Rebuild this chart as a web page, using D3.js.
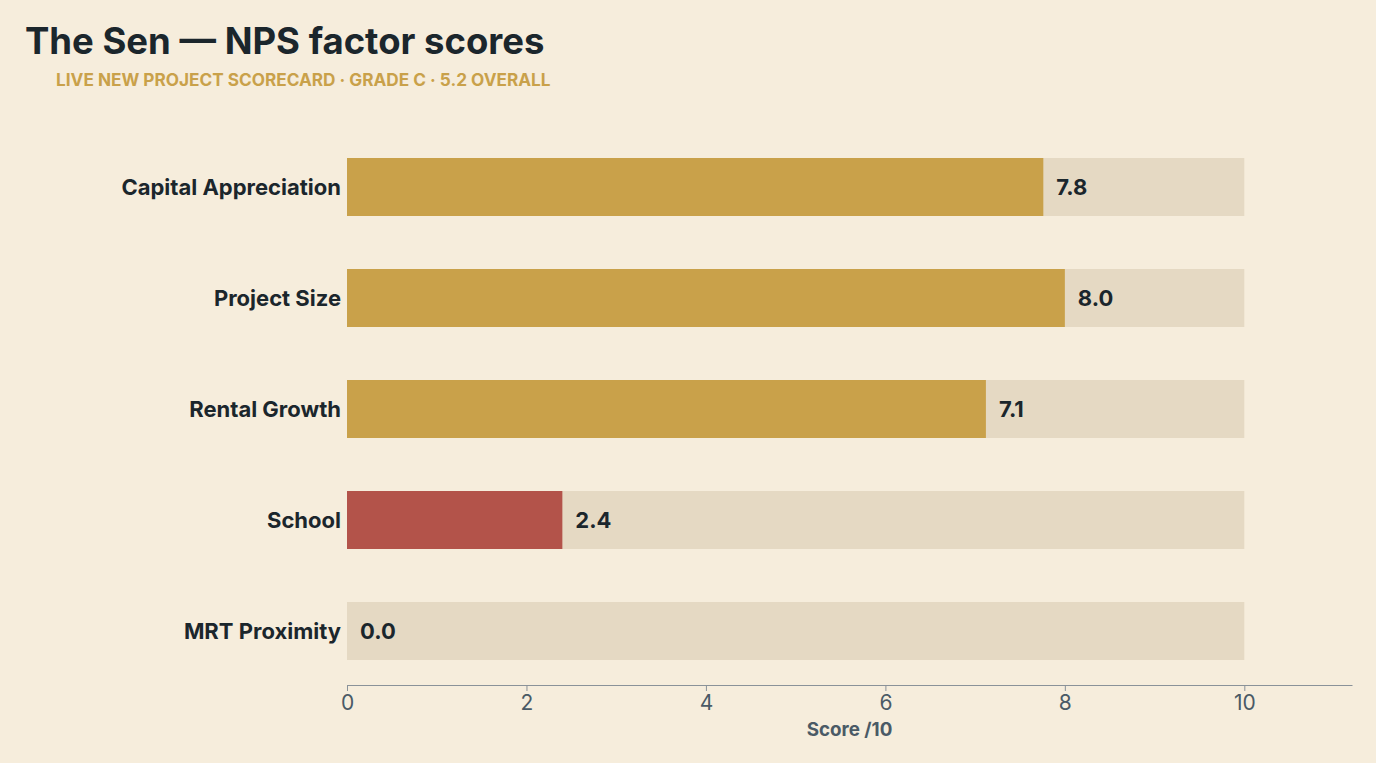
<!DOCTYPE html>
<html><head><meta charset="utf-8">
<script src="https://cdn.jsdelivr.net/npm/d3@7"></script>
<style>
html,body{margin:0;padding:0;background:#F6EDDC;}
svg{display:block;font-family:Inter, "Noto Sans", sans-serif;}
</style></head>
<body>
<svg id="c" width="1376" height="763"></svg>
<script>
const categories = ["Capital Appreciation","Project Size","Rental Growth","School","MRT Proximity"];
const scores = [7.76, 8.0, 7.12, 2.4, 0.0];
const barColors = ["#C9A14A","#C9A14A","#C9A14A","#B3534A","#C9A14A"];
const tickValues = [0,2,4,6,8,10];
const maxScore = 10;

const svg = d3.select("#c");
svg.append("rect").attr("width",1376).attr("height",763).attr("fill","#F6EDDC");

const x = d3.scaleLinear().domain([0, 11.2]).range([347, 1352]);
const y = d3.scaleBand().domain(categories).range([131.5, 686.5]).paddingInner(0.4775).paddingOuter(0.2387);

svg.append("text").attr("x",25).attr("y",54).attr("font-size",36.5).attr("font-weight",700)
  .attr("fill","#1B262C").text("The Sen — NPS factor scores");
svg.append("text").attr("x",56).attr("y",86).attr("font-size",17.2).attr("font-weight",700)
  .attr("fill","#C9A14A").text("LIVE NEW PROJECT SCORECARD · GRADE C · 5.2 OVERALL");

const g = svg.append("g");
g.selectAll("rect.track").data(categories).join("rect").attr("class","track")
  .attr("x", x(0)).attr("y", d=>y(d)).attr("width", x(maxScore)-x(0)).attr("height", y.bandwidth())
  .attr("fill","#E5D9C3");
g.selectAll("rect.bar").data(categories).join("rect").attr("class","bar")
  .attr("x", x(0)).attr("y", d=>y(d)).attr("width", (d,i)=>x(scores[i])-x(0)).attr("height", y.bandwidth())
  .attr("fill",(d,i)=>barColors[i]);
g.selectAll("text.val").data(categories).join("text").attr("class","val")
  .attr("x",(d,i)=>x(scores[i])+13).attr("y",d=>y(d)+y.bandwidth()/2).attr("dy","0.35em")
  .attr("font-size",22).attr("font-weight",700).attr("fill","#1B262C")
  .text((d,i)=>d3.format(".1f")(scores[i]));
g.selectAll("text.cat").data(categories).join("text").attr("class","cat")
  .attr("x",341).attr("y",d=>y(d)+y.bandwidth()/2).attr("dy","0.35em").attr("text-anchor","end")
  .attr("font-size",22).attr("font-weight",700).attr("fill","#1B262C").text(d=>d);

const ax = svg.append("g").attr("transform","translate(0,685)")
  .call(d3.axisBottom(x).tickValues(tickValues).tickSize(6).tickSizeOuter(0).tickPadding(4));
ax.select(".domain").attr("stroke","#8A9299");
ax.selectAll(".tick line").attr("stroke","#8A9299");
ax.selectAll(".tick text").attr("font-size",21).attr("fill","#4A5A66").attr("font-family","Inter, 'Noto Sans', sans-serif");

svg.append("text").attr("x",(x.range()[0]+x.range()[1])/2).attr("y",736).attr("text-anchor","middle")
  .attr("font-size",18.8).attr("font-weight",700).attr("fill","#4A5A66").text("Score /10");
</script>
</body></html>
